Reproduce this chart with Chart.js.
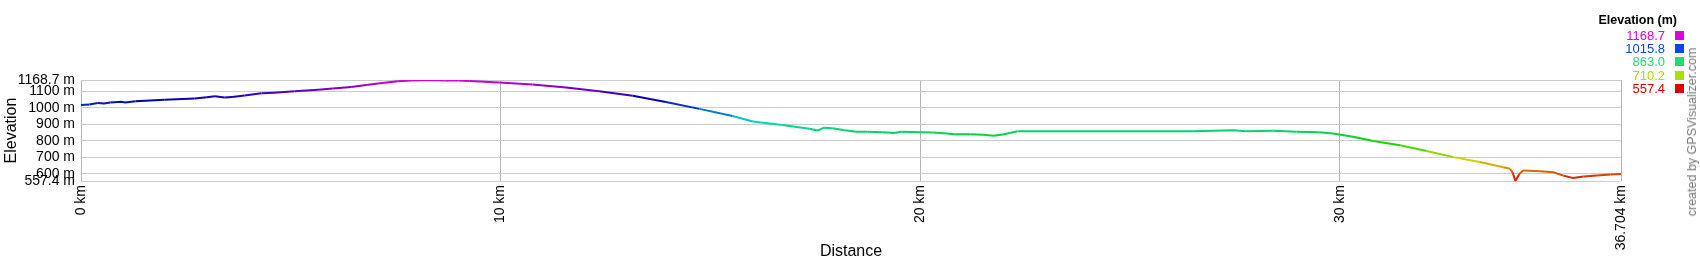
<!DOCTYPE html>
<html>
<head>
<meta charset="utf-8">
<script src="https://cdn.jsdelivr.net/npm/chart.js@4.4.1/dist/chart.umd.min.js"></script>
<style>
  html, body { margin: 0; padding: 0; background: #fff; }
  #wrap { position: relative; width: 1700px; height: 260px; overflow: hidden; font-family: "Liberation Sans", Arial, sans-serif; }
  canvas { position: absolute; left: 0; top: 0; }
  .lgTitle { position: absolute; right: 23px; top: 13px; font-weight: bold; font-size: 12.5px; color: #000; white-space: nowrap; }
  .lgVal { position: absolute; right: 35px; font-size: 13px; white-space: nowrap; line-height: 13px; }
  .lgBox { position: absolute; left: 1675px; width: 9px; height: 9px; }
  .credit { position: absolute; left: 1692px; top: 132px; transform: translate(-50%, -50%) rotate(-90deg); font-size: 12.5px; color: #777; white-space: nowrap; }
</style>
</head>
<body>
<div id="wrap">
  <canvas id="c" width="1700" height="260"></canvas>
  <div class="lgTitle">Elevation (m)</div>
  <div id="legend"></div>
  <div class="credit">created by GPSVisualizer.com</div>
</div>
<script>
// ---- data ----
const distances = [0, 0.2, 0.4, 0.55, 0.7, 0.96, 1.05, 1.3, 1.99, 2.71, 3.0, 3.19, 3.42, 3.6, 3.9, 4.3, 4.6, 5.09, 5.65, 6.0, 6.44, 6.8, 7.08, 7.55, 7.87, 8.3, 8.67, 9.0, 9.26, 9.97, 10.76, 11.56, 12.35, 13.15, 13.94, 14.74, 15.53, 16.01, 16.72, 17.36, 17.56, 17.71, 17.91, 18.2, 18.47, 18.74, 19.1, 19.38, 19.55, 20.01, 20.3, 20.64, 20.81, 21.2, 21.5, 21.76, 22.0, 22.16, 22.32, 23.19, 24.0, 25.57, 26.5, 27.48, 27.76, 28.42, 28.97, 29.5, 29.84, 30.32, 30.8, 31.44, 32.07, 32.71, 33.34, 33.9, 34.06, 34.12, 34.19, 34.28, 34.37, 34.77, 35.09, 35.33, 35.56, 35.81, 36.13, 36.45, 36.704];
const elevations = [1018, 1021, 1030, 1027, 1033, 1037, 1033, 1040, 1049, 1057, 1064, 1071, 1063, 1066, 1075, 1088, 1092, 1100, 1110, 1117, 1126, 1138, 1147, 1161, 1166, 1168.7, 1166, 1165, 1162, 1153, 1141, 1124, 1100, 1073, 1035, 994, 951, 918, 896, 874, 863, 880, 876, 865, 856, 855, 853, 848, 855, 853, 851, 845, 840, 841, 837, 831, 840, 849, 859, 859, 859, 859, 859, 865, 859, 861, 855, 852, 845, 825, 800, 774, 739, 702, 672, 641, 631, 610, 557.4, 600, 621, 617, 611, 590, 576, 584, 590, 597, 600];
const xTicks = [0, 10, 20, 30, 36.704];
const yTicks = [557.4, 600, 700, 800, 900, 1000, 1100, 1168.7];
const legendValues = [1168.7, 1015.8, 863.0, 710.2, 557.4];
const legendColors = ["#e000e0", "#0a44ee", "#22dd77", "#aadd00", "#dd0000"];

const yMin = 557.4, yMax = 1168.7;
function elevColor(e) {
  const t = Math.max(0, Math.min(1, (e - yMin) / (yMax - yMin)));
  const h = 300 * t;
  const L = 42 - 8 * Math.max(0, 1 - Math.abs(h - 240) / 50);
  return `hsl(${h.toFixed(1)},100%,${L.toFixed(1)}%)`;
}

// legend
const lg = document.getElementById('legend');
legendValues.forEach((v, i) => {
  const cy = 35.5 + i * 13.2;
  const t = document.createElement('div');
  t.className = 'lgVal';
  t.style.top = (cy - 6.5) + 'px';
  t.style.color = legendColors[i];
  t.textContent = v.toFixed(1);
  lg.appendChild(t);
  const b = document.createElement('div');
  b.className = 'lgBox';
  b.style.top = (cy - 4.5) + 'px';
  b.style.background = legendColors[i];
  lg.appendChild(b);
});

const points = distances.map((d, i) => ({ x: d, y: elevations[i] }));
const FONT = "'Liberation Sans', Arial, sans-serif";

new Chart(document.getElementById('c'), {
  type: 'line',
  data: {
    datasets: [{
      data: points,
      borderWidth: 2,
      pointRadius: 0,
      tension: 0,
      fill: false,
      borderColor: '#00cc66',
      segment: {
        borderColor: ctx => elevColor((ctx.p0.parsed.y + ctx.p1.parsed.y) / 2)
      }
    }]
  },
  options: {
    responsive: false,
    animation: false,
    events: [],
    layout: { padding: { left: 0, top: 80, right: 79, bottom: 0 } },
    plugins: { legend: { display: false }, tooltip: { enabled: false } },
    scales: {
      x: {
        type: 'linear',
        min: 0,
        max: 36.704,
        afterBuildTicks: s => { s.ticks = xTicks.map(v => ({ value: v })); },
        afterFit: s => { s.height = 79; },
        ticks: {
          autoSkip: false,
          minRotation: 90,
          maxRotation: 90,
          padding: 4,
          color: '#000',
          font: { family: FONT, size: 14 },
          callback: v => v + ' km'
        },
        grid: { color: '#b4b4b4', lineWidth: 1, drawTicks: false },
        border: { display: false },
        title: {
          display: true,
          text: 'Distance',
          color: '#000',
          padding: { top: 0, bottom: 0 },
          font: { family: FONT, size: 16, lineHeight: 1 }
        }
      },
      y: {
        type: 'linear',
        min: yMin,
        max: yMax,
        afterBuildTicks: s => { s.ticks = yTicks.map(v => ({ value: v })); },
        afterFit: s => { s.width = 81; },
        ticks: {
          autoSkip: false,
          padding: 6,
          color: '#000',
          font: { family: FONT, size: 14 },
          callback: v => v + ' m'
        },
        grid: { color: '#cccccc', lineWidth: 1, drawTicks: false },
        border: { display: false },
        title: {
          display: true,
          text: 'Elevation',
          color: '#000',
          padding: { top: 4, bottom: 0 },
          font: { family: FONT, size: 16, lineHeight: 1 }
        }
      }
    }
  }
});
</script>
</body>
</html>
